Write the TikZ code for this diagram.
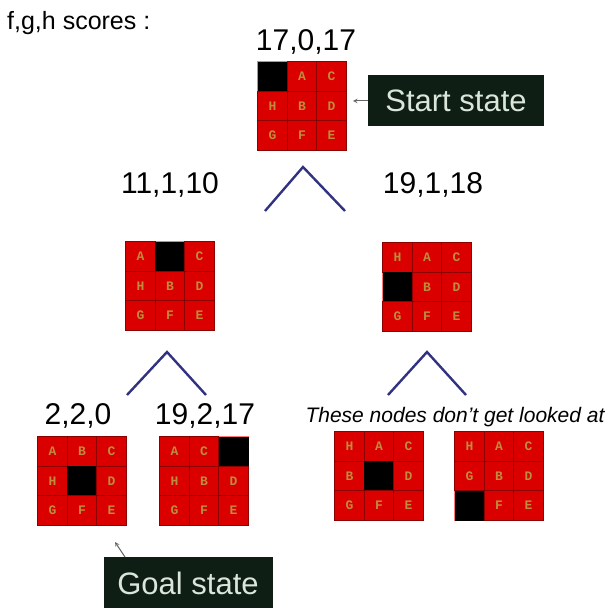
\documentclass[tikz,border=0pt]{standalone}
\usepackage{fontspec}
\setmainfont{Liberation Sans}
\newfontfamily\tilefont{Liberation Mono}
\usetikzlibrary{calc}
\definecolor{tilered}{RGB}{218,0,0}
\definecolor{tileedge}{RGB}{140,0,0}
\definecolor{letterTan}{RGB}{190,140,60}
\definecolor{lineNavy}{RGB}{50,50,130}
\definecolor{boxGreen}{RGB}{14,30,20}
\definecolor{boxText}{RGB}{218,230,218}

\tikzset{
  board/.style={minimum size=88.5pt, inner sep=0pt, draw={rgb,255:red,255;green,120;blue,120}, line width=0.6pt},
  tile/.style={minimum size=29.5pt, inner sep=0pt, fill=tilered, draw=tileedge, line width=0.6pt,
    text=letterTan, font=\tilefont\bfseries\fontsize{13}{13}\selectfont},
  hole/.style={minimum size=29.5pt, inner sep=0pt, fill=black, draw=black},
  score/.style={font=\fontsize{30}{32}\selectfont, inner sep=0pt},
  statebox/.style={fill=boxGreen, text=boxText, minimum width=176pt, minimum height=51pt,
    inner sep=0pt, font=\fontsize{31}{33}\selectfont},
  branch/.style={draw=lineNavy, line width=2.4pt},
  pointer/.style={draw=black!60, line width=1pt, -stealth}
}

% one 3x3 board: name, centre, entries letter/style
\newcommand{\puzzle}[3]{%
  \node[board] (#1) at (#2) {};
  \foreach \t/\s [count=\k from 0] in {#3} {
    \pgfmathtruncatemacro\row{int(\k/3)}
    \pgfmathtruncatemacro\col{mod(\k,3)}
    \node[\s] at ($(#1)+(\col*29.5-29.5,\row*29.5-29.5)$) {\t};
  }
}

\begin{document}
\begin{tikzpicture}[x=1pt, y=-1pt]
  \useasboundingbox (0,0) rectangle (614,609);

  % Heading
  \node[anchor=west, font=\fontsize{25}{27}\selectfont, inner sep=0pt] (heading) at (7,23) {f,g,h scores :};

  % Root
  \node[score] (rootScore) at (306,42) {17,0,17};
  \puzzle{start}{302,106}{/hole,A/tile,C/tile,H/tile,B/tile,D/tile,G/tile,F/tile,E/tile}
  \node[statebox] (startBox) at (456,101) {Start state};
  \coordinate (startTip) at (353,101);
  \draw[pointer] (startBox.west) -- (startTip);

  % Branch under root
  \coordinate (rootApex) at (303,167);
  \coordinate (rootL) at (265,211);
  \coordinate (rootR) at (345,211);
  \draw[branch] (rootL) -- (rootApex) -- (rootR);

  % Second level
  \node[score] (leftScore) at (170,185) {11,1,10};
  \puzzle{left}{170,286}{A/tile,/hole,C/tile,H/tile,B/tile,D/tile,G/tile,F/tile,E/tile}
  \node[score] (rightScore) at (433,185) {19,1,18};
  \puzzle{right}{427,287}{H/tile,A/tile,C/tile,/hole,B/tile,D/tile,G/tile,F/tile,E/tile}

  \coordinate (leftApex) at (167,352);
  \coordinate (leftL) at (127,395);
  \coordinate (leftR) at (206,395);
  \draw[branch] (leftL) -- (leftApex) -- (leftR);
  \coordinate (rightApex) at (427,352);
  \coordinate (rightL) at (388,395);
  \coordinate (rightR) at (466,395);
  \draw[branch] (rightL) -- (rightApex) -- (rightR);

  % Third level
  \node[score] (goalScore) at (78,416) {2,2,0};
  \puzzle{goal}{82,481}{A/tile,B/tile,C/tile,H/tile,/hole,D/tile,G/tile,F/tile,E/tile}
  \node[score] (sideScore) at (205,416) {19,2,17};
  \puzzle{side}{204,481}{A/tile,C/tile,/hole,H/tile,B/tile,D/tile,G/tile,F/tile,E/tile}

  \node[font=\itshape\fontsize{21}{23}\selectfont, inner sep=0pt] (skipNote) at (455,417) {These nodes don't get looked at};
  \puzzle{skipA}{379,476}{H/tile,A/tile,C/tile,B/tile,/hole,D/tile,G/tile,F/tile,E/tile}
  \puzzle{skipB}{499,476}{H/tile,A/tile,C/tile,G/tile,B/tile,D/tile,/hole,F/tile,E/tile}

  % Goal label
  \node[statebox, minimum width=169pt] (goalBox) at (188,583) {Goal state};
  \coordinate (goalTail) at (125,557);
  \coordinate (goalTip) at (115,542);
  \draw[pointer] (goalTail) -- (goalTip);
\end{tikzpicture}
\end{document}
